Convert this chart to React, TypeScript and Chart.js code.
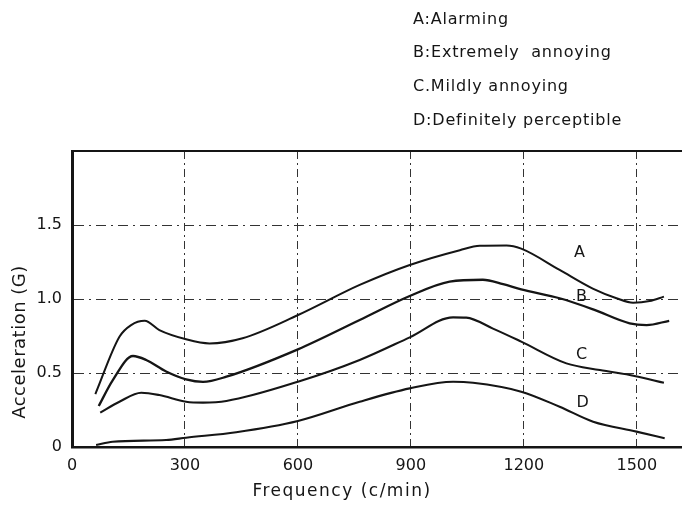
import React, { useEffect, useRef } from "react";
import { Chart, registerables } from "chart.js";

Chart.register(...registerables);

// ---- data ----
const A_X = [62, 126, 157, 193, 232, 303, 365, 453, 599, 764, 897, 1030, 1083, 1154, 1193, 1295, 1383, 1446, 1490, 1534, 1572];
const A_Y = [0.358, 0.745, 0.824, 0.853, 0.79, 0.728, 0.70, 0.735, 0.89, 1.095, 1.23, 1.33, 1.36, 1.362, 1.34, 1.196, 1.07, 1.005, 0.975, 0.986, 1.016];

const B_X = [71, 108, 162, 197, 250, 303, 348, 410, 600, 764, 897, 1003, 1091, 1145, 1193, 1295, 1384, 1481, 1526, 1586];
const B_Y = [0.277, 0.45, 0.615, 0.588, 0.51, 0.457, 0.44, 0.475, 0.66, 0.858, 1.02, 1.117, 1.13, 1.10, 1.065, 1.005, 0.93, 0.836, 0.824, 0.853];

const C_X = [75, 126, 184, 232, 303, 348, 410, 600, 764, 897, 1012, 1047, 1118, 1193, 1313, 1402, 1494, 1572];
const C_Y = [0.232, 0.306, 0.367, 0.351, 0.306, 0.30, 0.311, 0.441, 0.588, 0.741, 0.876, 0.874, 0.80, 0.712, 0.565, 0.52, 0.48, 0.434];

const D_X = [64, 108, 250, 303, 436, 600, 764, 897, 1012, 1065, 1193, 1295, 1384, 1499, 1574];
const D_Y = [0.013, 0.036, 0.047, 0.063, 0.10, 0.176, 0.306, 0.396, 0.441, 0.434, 0.374, 0.272, 0.171, 0.104, 0.059];

const SERIES_NAMES = ["A", "B", "C", "D"];
const LABEL_X = [1348, 1353, 1353, 1356];
const LABEL_Y = [1.31, 1.016, 0.62, 0.30];

const LEGEND_LINES = [
  "A:Alarming",
  "B:Extremely  annoying",
  "C.Mildly annoying",
  "D:Definitely perceptible",
];

const X_TICKS = [0, 300, 600, 900, 1200, 1500];
const X_TICK_LABELS = ["0", "300", "600", "900", "1200", "1500"];
const Y_TICKS = [0, 0.5, 1.0, 1.5];
const Y_TICK_LABELS = ["0", "0.5", "1.0", "1.5"];

const X_TITLE = "Frequency (c/min)";
const Y_TITLE = "Acceleration (G)";

const X_MIN = 0;
const X_MAX = 1620;
const Y_MIN = 0;
const Y_MAX = 2.0;

const FONT = '"DejaVu Sans", sans-serif';
const INK = "#151515";

const toPoints = (xs: number[], ys: number[]) => xs.map((x, i) => ({ x, y: ys[i] }));

const annotPlugin = {
  id: "annot",
  afterDraw(chart: any) {
    const { ctx, chartArea, scales } = chart;
    const xs = scales.x;
    const ys = scales.y;
    ctx.save();
    // top border
    ctx.strokeStyle = INK;
    ctx.lineWidth = 2;
    ctx.beginPath();
    ctx.moveTo(chartArea.left - 1, chartArea.top);
    ctx.lineTo(chartArea.right, chartArea.top);
    ctx.stroke();

    ctx.fillStyle = INK;
    // legend lines
    ctx.font = `16px ${FONT}`;
    (ctx as any).letterSpacing = "0.8px";
    ctx.textAlign = "left";
    ctx.textBaseline = "alphabetic";
    const baselines = [24, 57, 91, 125];
    LEGEND_LINES.forEach((t, i) => ctx.fillText(t, 413, baselines[i]));

    // series labels
    (ctx as any).letterSpacing = "0px";
    ctx.textAlign = "center";
    ctx.textBaseline = "middle";
    ctx.font = `16px ${FONT}`;
    SERIES_NAMES.forEach((n, i) => {
      ctx.fillText(n, xs.getPixelForValue(LABEL_X[i]), ys.getPixelForValue(LABEL_Y[i]));
    });

    // x title
    ctx.font = `17px ${FONT}`;
    (ctx as any).letterSpacing = "1.5px";
    ctx.fillText(X_TITLE, 342, 492);

    // y title
    (ctx as any).letterSpacing = "0.5px";
    ctx.translate(20, 342);
    ctx.rotate(-Math.PI / 2);
    ctx.font = `18px ${FONT}`;
    ctx.fillText(Y_TITLE, 0, 0);
    ctx.restore();
  },
};

export default function App() {
  const ref = useRef<HTMLCanvasElement | null>(null);

  useEffect(() => {
    if (!ref.current) return;
    const mk = (xs: number[], ys: number[], w: number) => ({
      data: toPoints(xs, ys),
      borderColor: INK,
      borderWidth: w,
      pointRadius: 0,
      fill: false,
      cubicInterpolationMode: "monotone" as const,
    });
    const chart = new Chart(ref.current, {
      type: "line",
      data: {
        datasets: [mk(A_X, A_Y, 2), mk(B_X, B_Y, 2.3), mk(C_X, C_Y, 2.1), mk(D_X, D_Y, 2.1)],
      },
      options: {
        responsive: false,
        animation: false,
        layout: { padding: { top: 151, left: 0, right: 0, bottom: 0 } },
        plugins: { legend: { display: false }, tooltip: { enabled: false }, title: { display: false } },
        scales: {
          x: {
            type: "linear",
            min: X_MIN,
            max: X_MAX,
            afterFit: (s: any) => {
              s.height = 64;
            },
            afterBuildTicks: (s: any) => {
              s.ticks = X_TICKS.map((v) => ({ value: v }));
            },
            ticks: {
              color: INK,
              font: { family: FONT, size: 16 },
              padding: 9,
              maxRotation: 0,
              autoSkip: false,
              callback: (v: any) => {
                const i = X_TICKS.indexOf(Number(v));
                return i >= 0 ? X_TICK_LABELS[i] : "";
              },
            },
            grid: {
              drawTicks: false,
              lineWidth: 1,
              color: (c: any) => (c.tick && c.tick.value === 0 ? "rgba(0,0,0,0)" : "#333"),
            },
            border: { display: true, color: INK, width: 2.5, dash: [8, 4, 2, 4] },
          },
          y: {
            type: "linear",
            min: Y_MIN,
            max: Y_MAX,
            afterFit: (s: any) => {
              s.width = 72;
            },
            afterBuildTicks: (s: any) => {
              s.ticks = Y_TICKS.map((v) => ({ value: v }));
            },
            ticks: {
              color: INK,
              font: { family: FONT, size: 16 },
              padding: 10,
              autoSkip: false,
              callback: (v: any) => {
                const i = Y_TICKS.indexOf(Number(v));
                return i >= 0 ? Y_TICK_LABELS[i] : "";
              },
            },
            grid: {
              drawTicks: false,
              lineWidth: 1,
              color: (c: any) =>
                c.tick && (c.tick.value === 0 || c.tick.value === Y_MAX) ? "rgba(0,0,0,0)" : "#333",
            },
            border: { display: true, color: INK, width: 3, dash: [10, 5, 2, 5] },
          },
        },
      },
      plugins: [annotPlugin],
    });
    return () => chart.destroy();
  }, []);

  return (
    <div style={{ position: "absolute", left: 0, top: 0, width: 682, height: 511, background: "#fff" }}>
      <canvas ref={ref} width={682} height={511} style={{ display: "block" }} />
    </div>
  );
}
